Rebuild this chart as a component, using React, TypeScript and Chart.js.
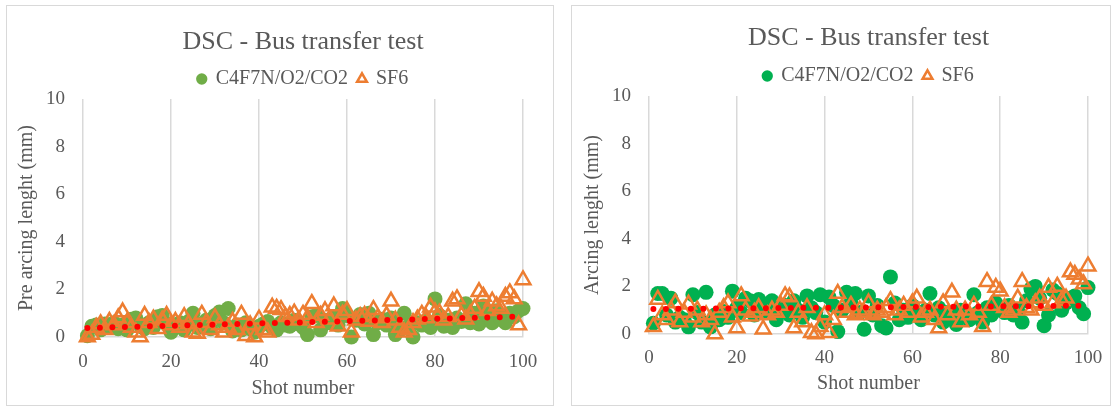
import React, { useEffect, useRef } from "react";
import { Chart, registerables } from "chart.js";

Chart.register(...registerables);

// ---------- data ----------
const shotNumbers: number[] = Array.from({ length: 100 }, (_, i) => i + 1);

const preArcingC4F7N: number[] = [
  0.05, 0.45, 0.5, 0.3, 0.55, 0.4, 0.6, 0.35, 0.5, 0.3,
  0.75, 0.8, 0.5, 0.35, 0.6, 0.4, 0.85, 0.9, 0.55, 0.2,
  0.5, 0.6, 0.3, 0.65, 1.0, 0.4, 0.55, 0.7, 0.35, 0.9,
  1.05, 0.6, 1.2, 0.25, 0.5, 0.3, 0.6, 0.35, 0.2, 0.45,
  0.55, 0.65, 0.4, 0.3, 0.6, 0.5, 0.45, 0.7, 0.55, 0.4,
  0.1, 0.85, 0.9, 0.3, 0.7, 0.6, 0.8, 0.5, 1.2, 0.9,
  0.0, 0.7, 0.95, 0.55, 1.0, 0.1, 0.6, 0.75, 0.5, 0.8,
  0.1, 0.3, 1.0, 0.45, 0.0, 0.6, 0.5, 0.7, 0.4, 1.6,
  0.9, 0.45, 0.7, 0.4, 0.8, 0.65, 1.4, 0.6, 1.0, 0.55,
  1.3, 0.9, 0.6, 1.1, 0.75, 0.6, 1.0, 0.85, 1.1, 1.2,
];

const preArcingSF6: number[] = [
  0.0, 0.1, 0.4, 0.55, 0.3, 0.65, 0.5, 0.8, 1.05, 0.6,
  0.4, 0.2, 0.0, 0.9, 0.6, 0.75, 0.35, 0.7, 0.9, 0.5,
  0.65, 0.4, 0.85, 0.55, 0.2, 0.15, 0.95, 0.6, 0.3, 0.8,
  0.5, 0.2, 0.4, 0.65, 0.3, 0.95, 0.05, 0.5, 0.0, 0.75,
  0.3, 0.2, 1.25, 1.2, 1.15, 0.85, 0.9, 1.0, 0.7, 0.95,
  0.8, 1.4, 0.6, 0.9, 1.1, 0.75, 1.3, 0.45, 0.95, 1.1,
  0.2, 0.7, 0.85, 0.9, 0.65, 1.15, 0.8, 0.6, 0.9, 1.5,
  0.7, 0.4, 0.2, 0.3, 0.6, 0.75, 0.95, 0.8, 1.25, 1.05,
  1.0, 0.7, 0.85, 1.5, 1.6, 0.9, 0.75, 0.95, 1.2, 1.9,
  1.7, 1.1, 1.5, 1.3, 1.2, 1.7, 1.85, 1.6, 0.5, 2.4,
];

const arcingC4F7N: number[] = [
  0.45, 1.7, 1.7, 0.8, 1.5, 0.5, 0.7, 0.6, 0.3, 1.65,
  0.9, 0.5, 1.75, 0.3, 0.8, 0.6, 0.95, 0.7, 1.8, 1.1,
  0.9, 1.5, 1.4, 0.8, 1.45, 1.1, 0.9, 1.4, 0.6, 0.95,
  1.2, 0.8, 1.4, 1.0, 0.7, 1.6, 1.1, 0.9, 1.65, 0.5,
  1.55, 1.2, 0.1, 1.0, 1.75, 1.3, 1.7, 0.9, 0.2, 1.6,
  0.8, 1.2, 0.35, 0.25, 2.4, 1.3, 0.6, 1.0, 0.7, 1.2,
  0.9, 0.6, 1.0, 1.7, 0.8, 1.1, 0.5, 0.9, 0.7, 0.4,
  1.0, 0.8, 0.6, 1.65, 0.9, 0.5, 1.1, 0.8, 1.3, 1.0,
  0.9, 1.2, 0.8, 1.0, 0.5, 1.4, 1.9, 2.0, 1.5, 0.35,
  0.8, 1.85, 1.7, 1.0, 1.3, 1.5, 1.6, 1.1, 0.85, 1.95,
];

const arcingSF6: number[] = [
  0.3, 1.45, 0.8, 0.6, 1.0, 1.3, 0.5, 0.9, 1.25, 0.7,
  1.0, 0.5, 0.8, 0.6, 0.0, 0.9, 1.1, 1.3, 0.7, 0.25,
  1.6, 1.0, 0.75, 0.9, 1.1, 0.2, 0.8, 1.0, 0.9, 1.2,
  1.6, 1.55, 0.25, 0.9, 0.5, 1.1, 0.05, 0.0, 0.3, 0.8,
  0.05, 0.6, 1.7, 1.1, 0.9, 1.2, 0.8, 1.0, 0.9, 1.3,
  0.8, 1.0, 0.9, 1.1, 1.4, 0.8, 1.0, 1.2, 0.9, 1.3,
  1.5, 0.7, 0.9, 1.0, 0.6, 0.25, 1.3, 0.8, 1.75, 1.0,
  0.5, 1.0, 0.8, 1.2, 0.9, 0.3, 2.2, 1.2, 1.95, 1.8,
  1.1, 0.9, 1.0, 1.5, 2.2, 1.1, 1.0, 1.3, 1.5, 1.2,
  1.95, 1.3, 2.0, 1.4, 1.5, 2.6, 2.5, 2.3, 2.1, 2.85,
];

// linear trendline end points (shot 1 and shot 100)
const trendShots: number[] = [1, 100];
const preArcingTrend: number[] = [0.38, 0.86];
const arcingTrend: number[] = [1.05, 1.19];

const xTicks: number[] = [0, 20, 40, 60, 80, 100];
const yTicks: number[] = [0, 2, 4, 6, 8, 10];

const titleText = "DSC - Bus transfer test";
const seriesNames: string[] = ["C4F7N/O2/CO2", "SF6"];
const xTitle = "Shot number";

// ---------- styles ----------
const FONT = "Liberation Serif";
const TEXT = "#595959";
const GRID = "#d9d9d9";
const ORANGE = "#ED7D31";
const RED = "#FF0000";

Chart.defaults.font.family = FONT;
Chart.defaults.color = TEXT;

type PanelProps = {
  left: number;
  width: number;
  c4: number[];
  sf6: number[];
  trend: number[];
  green: string;
  yTitle: string;
  L: {
    yWidth: number;
    padRight: number;
    xHeight: number;
    titlePadTop: number;
    titlePadBottom: number;
    xTickPad: number;
    xTitlePadBottom: number;
    yTitlePadTop: number;
  };
};

function Panel(props: PanelProps) {
  const ref = useRef<HTMLCanvasElement | null>(null);
  const H = 399;

  useEffect(() => {
    if (!ref.current) return;
    const { L } = props;
    const chart = new Chart(ref.current, {
      type: "scatter",
      data: {
        datasets: [
          {
            label: seriesNames[0],
            data: shotNumbers.map((x, i) => ({ x, y: props.c4[i] })),
            pointStyle: "circle",
            pointRadius: 7.5,
            pointHoverRadius: 7.5,
            backgroundColor: props.green,
            borderColor: props.green,
            borderWidth: 0,
            order: 3,
            clip: false,
          } as any,
          {
            label: seriesNames[1],
            data: shotNumbers.map((x, i) => ({ x, y: props.sf6[i] })),
            pointStyle: "triangle",
            pointRadius: 8.5,
            pointHoverRadius: 8.5,
            backgroundColor: "rgba(0,0,0,0)",
            borderColor: ORANGE,
            borderWidth: 2.5,
            order: 2,
            clip: false,
          } as any,
          {
            type: "line",
            label: "trend",
            data: trendShots.map((x, i) => ({ x, y: props.trend[i] })),
            borderColor: RED,
            backgroundColor: RED,
            borderWidth: 6,
            borderDash: [0, 12.5],
            borderCapStyle: "round",
            pointRadius: 0,
            pointHoverRadius: 0,
            showLine: true,
            fill: false,
            order: 1,
            clip: false,
          } as any,
        ],
      },
      options: {
        responsive: false,
        animation: false,
        devicePixelRatio: 1,
        layout: { padding: { left: 0, right: L.padRight, top: 0, bottom: 0 } },
        plugins: {
          tooltip: { enabled: false },
          title: {
            display: true,
            text: titleText,
            color: TEXT,
            fullSize: false,
            font: { family: FONT, size: 26, weight: "normal" },
            padding: { top: L.titlePadTop, bottom: L.titlePadBottom },
          },
          legend: {
            display: true,
            position: "top",
            fullSize: false,
            labels: {
              usePointStyle: true,
              boxWidth: 8,
              boxHeight: 8,
              padding: 10,
              color: TEXT,
              font: { family: FONT, size: 20 },
              filter: (item: any) => item.datasetIndex < 2,
              sort: (a: any, b: any) => a.datasetIndex - b.datasetIndex,
            },
          },
        },
        scales: {
          x: {
            type: "linear",
            min: 0,
            max: 100,
            afterBuildTicks: (s: any) => {
              s.ticks = xTicks.map((v) => ({ value: v }));
            },
            ticks: {
              color: TEXT,
              padding: 0,
              maxRotation: 0,
              font: { family: FONT, size: 19 },
            },
            grid: {
              color: GRID,
              lineWidth: 1.5,
              drawTicks: true,
              tickLength: L.xTickPad,
              tickColor: "rgba(0,0,0,0)",
            },
            border: { display: true, color: GRID, width: 1.5 },
            title: {
              display: true,
              text: xTitle,
              color: TEXT,
              font: { family: FONT, size: 20 },
              padding: { top: 0, bottom: L.xTitlePadBottom },
            },
            afterFit: (s: any) => {
              s.height = L.xHeight;
            },
          },
          y: {
            type: "linear",
            min: 0,
            max: 10,
            afterBuildTicks: (s: any) => {
              s.ticks = yTicks.map((v) => ({ value: v }));
            },
            ticks: {
              color: TEXT,
              padding: 18,
              font: { family: FONT, size: 19 },
            },
            grid: { display: false, drawTicks: false },
            border: { display: false },
            title: {
              display: true,
              text: props.yTitle,
              color: TEXT,
              font: { family: FONT, size: 20 },
              padding: { top: L.yTitlePadTop, bottom: 0 },
            },
            afterFit: (s: any) => {
              s.width = L.yWidth;
            },
          },
        },
      } as any,
    });
    return () => chart.destroy();
  }, []);

  return (
    <div
      style={{
        position: "absolute",
        left: props.left,
        top: 5,
        width: props.width,
        height: H,
        border: `1px solid ${GRID}`,
        background: "#fff",
      }}
    >
      <canvas
        ref={ref}
        width={props.width}
        height={H}
        style={{ display: "block", width: props.width, height: H }}
      />
    </div>
  );
}

export default function App() {
  return (
    <div
      style={{
        position: "absolute",
        left: 0,
        top: 0,
        width: 1114,
        height: 407,
        background: "#fff",
      }}
    >
      <Panel
        left={6}
        width={546}
        c4={preArcingC4F7N}
        sf6={preArcingSF6}
        trend={preArcingTrend}
        green="#70AD47"
        yTitle="Pre arcing lenght (mm)"
        L={{
          yWidth: 76,
          padRight: 30,
          xHeight: 68,
          titlePadTop: 20.4,
          titlePadBottom: 1.4,
          xTickPad: 13.6,
          xTitlePadBottom: 4,
          yTitlePadTop: 8,
        }}
      />
      <Panel
        left={571}
        width={538}
        c4={arcingC4F7N}
        sf6={arcingSF6}
        trend={arcingTrend}
        green="#00B050"
        yTitle="Arcing lenght (mm)"
        L={{
          yWidth: 77,
          padRight: 22,
          xHeight: 71,
          titlePadTop: 16.4,
          titlePadBottom: 2.4,
          xTickPad: 12.6,
          xTitlePadBottom: 9,
          yTitlePadTop: 8.6,
        }}
      />
    </div>
  );
}
